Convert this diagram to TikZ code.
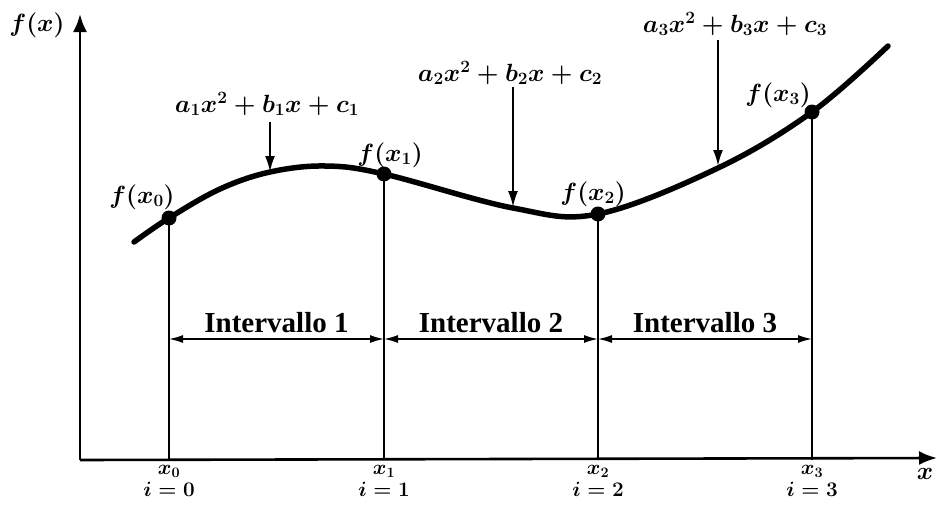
\documentclass[tikz,border=0pt]{standalone}
\usepackage{fontspec}
\setmainfont{Liberation Serif}
\usetikzlibrary{arrows.meta, positioning}

\begin{document}
\begin{tikzpicture}[x=1pt, y=-1pt,
      axis/.style={line width=2.6pt, -{Latex[length=18pt, width=14pt]}},
      curve/.style={line width=5.5pt, line cap=round},
      dot/.style={circle, fill, inner sep=0pt, minimum size=15pt},
      vline/.style={line width=1.8pt},
      span/.style={line width=1.5pt, {Latex[length=14pt, width=8pt]}-{Latex[length=14pt, width=8pt]}},
      down/.style={line width=2pt, -{Latex[length=16pt, width=10pt]}},
      lab/.style={font=\fontsize{26}{30}\selectfont\boldmath, inner sep=0pt},
      blab/.style={font=\fontsize{22}{24}\selectfont\boldmath, inner sep=0pt},
      ilab/.style={font=\fontsize{29}{32}\selectfont\bfseries, inner sep=0pt}]
    \useasboundingbox (0,0) rectangle (937,506);
    \coordinate (origin) at (80,460);
    \coordinate (ytop) at (80,14);
    \coordinate (xend) at (937,458);
    \draw[axis] (origin) -- (ytop);
    \draw[axis] (origin) -- (xend);
    \node[lab] (ylab) at (37,25) {$f(x)$};
    \node[lab] (xlab) at (925,474) {$x$};
    \draw[curve] plot[smooth, tension=0.6] coordinates {(134,242) (169,218) (220,189) (270,172) (325,166) (384,174) (513,208) (598,214) (718,168) (812,112) (888,46)};
    \node[dot] (p0) at (169,218) {};
    \node[dot] (p1) at (384,174) {};
    \node[dot] (p2) at (598,214) {};
    \node[dot] (p3) at (812,112) {};
    \node[lab] (f0) at (142,197) {$f(x_0)$};
    \node[lab] (f1) at (390,155) {$f(x_1)$};
    \node[lab] (f2) at (593,194) {$f(x_2)$};
    \node[lab] (f3) at (778,95) {$f(x_3)$};
    \foreach \k in {0,...,3} {
      \coordinate (b\k) at (p\k |- origin);
      \coordinate (m\k) at (p\k |- 0,339);
      \draw[vline] (p\k.center) -- (b\k);
      \node[blab, below=5pt of b\k] (xk\k) {$x_{\k}$};
      \node[blab, below=4pt of xk\k] (ik\k) {$i=\k$};
    }
    \draw[span] (m0) -- (m1) node[midway, above=5pt, ilab] (int1) {Intervallo 1};
    \draw[span] (m1) -- (m2) node[midway, above=5pt, ilab] (int2) {Intervallo 2};
    \draw[span] (m2) -- (m3) node[midway, above=5pt, ilab] (int3) {Intervallo 3};
    \node[lab] (q1) at (267,104) {$a_1x^2+b_1x+c_1$};
    \node[lab] (q2) at (510,73) {$a_2x^2+b_2x+c_2$};
    \node[lab] (q3) at (735,24) {$a_3x^2+b_3x+c_3$};
    \coordinate (s1) at (270,122);
    \coordinate (t1) at (270,172);
    \coordinate (s2) at (513,87);
    \coordinate (t2) at (513,207);
    \coordinate (s3) at (718,40);
    \coordinate (t3) at (718,166);
    \draw[down] (s1) -- (t1);
    \draw[down] (s2) -- (t2);
    \draw[down] (s3) -- (t3);
  \end{tikzpicture}
\end{document}
